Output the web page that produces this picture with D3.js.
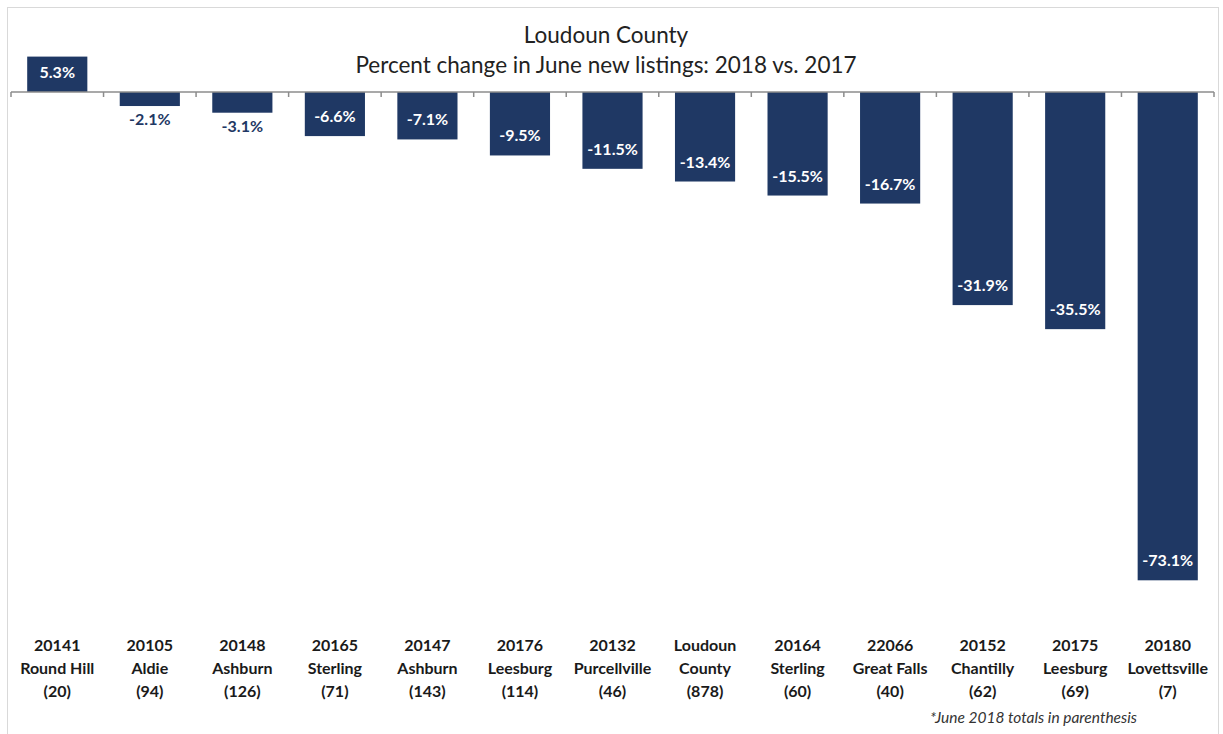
<!DOCTYPE html>
<html>
<head>
<meta charset="utf-8">
<script src="https://cdn.jsdelivr.net/npm/d3@7"></script>
<style>
  html, body { margin: 0; padding: 0; background: #fff; }
  svg { display: block; }
  text { font-family: Lato, "Open Sans", "Liberation Sans", sans-serif; }
</style>
</head>
<body>
<svg id="chart" width="1223" height="734"></svg>
<script>
// ZIP codes, area names and June 2018 listing totals
const zips = ["20141", "20105", "20148", "20165", "20147", "20176", "20132", "Loudoun", "20164", "22066", "20152", "20175", "20180"];
const places = ["Round Hill", "Aldie", "Ashburn", "Sterling", "Ashburn", "Leesburg", "Purcellville", "County", "Sterling", "Great Falls", "Chantilly", "Leesburg", "Lovettsville"];
const totals = [20, 94, 126, 71, 143, 114, 46, 878, 60, 40, 62, 69, 7];
// Percent change in new listings, June 2018 vs. June 2017
const changes = [5.3, -2.1, -3.1, -6.6, -7.1, -9.5, -11.5, -13.4, -15.5, -16.7, -31.9, -35.5, -73.1];

const titleLines = ["Loudoun County", "Percent change in June new listings: 2018 vs. 2017"];
const footnote = "*June 2018 totals in parenthesis";

const navy = "#1f3864";
const svg = d3.select("#chart");

// outer frame
svg.append("rect")
  .attr("x", 7.5).attr("y", 7.5)
  .attr("width", 1211).attr("height", 740)
  .attr("fill", "#fff").attr("stroke", "#d9d9d9").attr("stroke-width", 1);

const ids = zips.map((z, i) => i);

const x = d3.scaleBand()
  .domain(ids)
  .range([11, 1214])
  .paddingInner(0.35)
  .paddingOuter(0.175);

const y = d3.scaleLinear()
  .domain([-80, 10])
  .range([626.4, 25.2]);

// title
svg.append("g").selectAll("text")
  .data(titleLines)
  .join("text")
  .attr("x", 606)
  .attr("y", (d, i) => 43 + i * 30)
  .attr("text-anchor", "middle")
  .attr("font-size", 22.5)
  .attr("fill", "#222")
  .text(d => d);

// bars
svg.append("g").selectAll("rect")
  .data(changes)
  .join("rect")
  .attr("x", (d, i) => x(i))
  .attr("width", x.bandwidth())
  .attr("y", d => y(Math.max(0, d)))
  .attr("height", d => Math.abs(y(d) - y(0)))
  .attr("fill", navy);

// category axis at zero, with ticks at category boundaries
const step = x.step();
const x0 = x.range()[0];
const axisG = svg.append("g");
axisG.append("line")
  .attr("x1", x0).attr("x2", x.range()[1])
  .attr("y1", y(0)).attr("y2", y(0))
  .attr("stroke", "#8c8c8c").attr("stroke-width", 1.5);
axisG.selectAll("line.tick")
  .data(d3.range(ids.length + 1))
  .join("line")
  .attr("class", "tick")
  .attr("x1", i => x0 + i * step).attr("x2", i => x0 + i * step)
  .attr("y1", y(0)).attr("y2", y(0) + 5)
  .attr("stroke", "#8c8c8c").attr("stroke-width", 1.5);

// value labels: inside the bar end, or just below very short bars
const fmt = d => d.toFixed(1) + "%";
const short = d => d < 0 && Math.abs(y(d) - y(0)) < 30;
svg.append("g").selectAll("text")
  .data(changes)
  .join("text")
  .attr("x", (d, i) => x(i) + x.bandwidth() / 2)
  .attr("y", d => {
    if (d >= 0) return y(d) + 21;
    if (short(d)) return y(d) + 19;
    return y(d) - 14;
  })
  .attr("text-anchor", "middle")
  .attr("font-size", 16)
  .attr("font-weight", 700)
  .attr("fill", d => short(d) ? navy : "#fff")
  .text(fmt);

// category labels (three lines each)
const catG = svg.append("g").selectAll("text")
  .data(ids)
  .join("text")
  .attr("x", i => x(i) + x.bandwidth() / 2)
  .attr("y", 651)
  .attr("text-anchor", "middle")
  .attr("font-size", 16)
  .attr("font-weight", 700)
  .attr("fill", "#1a1a1a");
catG.append("tspan").attr("x", i => x(i) + x.bandwidth() / 2).attr("dy", 0).text(i => zips[i]);
catG.append("tspan").attr("x", i => x(i) + x.bandwidth() / 2).attr("dy", 23).text(i => places[i]);
catG.append("tspan").attr("x", i => x(i) + x.bandwidth() / 2).attr("dy", 23).text(i => "(" + totals[i] + ")");

// footnote
svg.append("text")
  .attr("x", 1137)
  .attr("y", 723)
  .attr("text-anchor", "end")
  .attr("font-size", 15.5)
  .attr("font-style", "italic")
  .attr("fill", "#333")
  .text(footnote);
</script>
</body>
</html>
